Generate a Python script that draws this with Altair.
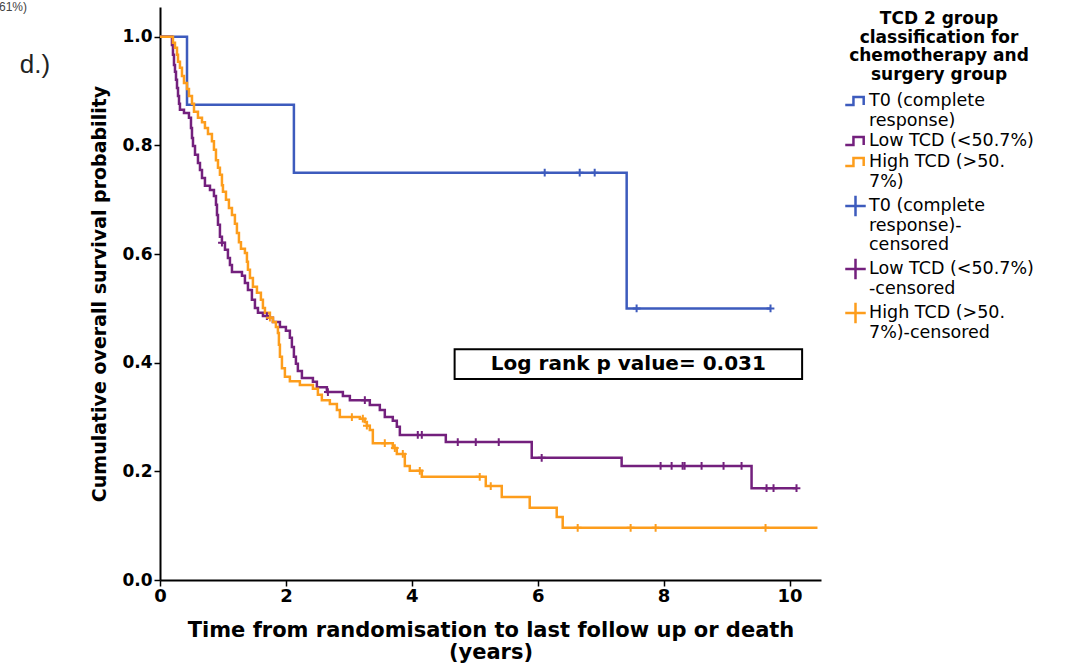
import altair as alt
import pandas as pd
import bisect

FONT = "DejaVu Sans"

# ---- group labels ("|" marks a line break in the legend) ----
G_T0 = "T0 (complete|response)"
G_LOW = "Low TCD (<50.7%)"
G_HIGH = "High TCD (>50.|7%)"
C_T0 = "T0 (complete|response)-|censored"
C_LOW = "Low TCD (<50.7%)|-censored"
C_HIGH = "High TCD (>50.|7%)-censored"
GROUPS = [G_T0, G_LOW, G_HIGH, C_T0, C_LOW, C_HIGH]
COLORS = ["#3d5bbd", "#73207d", "#fd9d1c", "#3d5bbd", "#73207d", "#fd9d1c"]

STEP_PATH = "M-1,0.4H-0.2V-0.4H0.8V0.4"
PLUS_PATH = "M-1,0H1M0,-1V1"
SHAPES = [STEP_PATH, STEP_PATH, STEP_PATH, PLUS_PATH, PLUS_PATH, PLUS_PATH]

# ---- Kaplan-Meier step curves (time in years, survival after step) ----
t0_t = [0, 0.429, 2.127, 7.413, 9.698]
t0_s = [1.0, 0.875, 0.75, 0.5, 0.5]
t0_cens = [6.111, 6.667, 6.905, 7.571, 9.698]

low_t = [0, 0.190, 0.206, 0.222, 0.238, 0.254, 0.270, 0.286, 0.302, 0.317,
         0.381, 0.460, 0.492, 0.508, 0.524, 0.556, 0.603, 0.635, 0.667, 0.714,
         0.794, 0.857, 0.889, 0.905, 0.921, 0.952, 0.984, 1.032, 1.079, 1.111,
         1.143, 1.302, 1.349, 1.397, 1.460, 1.508, 1.556, 1.635, 1.714, 1.794,
         1.905, 2.000, 2.063, 2.095, 2.127, 2.159, 2.190, 2.254, 2.429, 2.492,
         2.651, 2.905, 3.016, 3.333, 3.492, 3.571, 3.698, 3.762, 3.810, 4.540,
         5.905, 7.333, 9.397, 10.111]
low_s = [1.0, 0.985, 0.967, 0.948, 0.936, 0.921, 0.906, 0.891, 0.877, 0.866,
         0.860, 0.851, 0.832, 0.814, 0.799, 0.783, 0.768, 0.755, 0.740, 0.726,
         0.718, 0.707, 0.691, 0.672, 0.654, 0.632, 0.621, 0.608, 0.593, 0.580,
         0.567, 0.560, 0.547, 0.534, 0.516, 0.501, 0.492, 0.486, 0.483, 0.475,
         0.466, 0.459, 0.446, 0.429, 0.411, 0.398, 0.385, 0.372, 0.365, 0.355,
         0.346, 0.339, 0.331, 0.322, 0.313, 0.300, 0.293, 0.282, 0.267, 0.254,
         0.225, 0.210, 0.169, 0.169]
low_cens = [0.984, 1.698, 2.667, 3.254, 4.095, 4.159, 4.730, 5.016, 5.381,
            6.063, 7.952, 8.127, 8.302, 8.333, 8.603, 8.952, 9.238, 9.635,
            9.746, 10.111]

high_t = [0, 0.206, 0.238, 0.270, 0.286, 0.317, 0.349, 0.381, 0.429, 0.460,
          0.508, 0.540, 0.603, 0.667, 0.714, 0.762, 0.825, 0.857, 0.889, 0.921,
          0.952, 0.984, 1.000, 1.048, 1.095, 1.143, 1.190, 1.222, 1.254, 1.286,
          1.349, 1.381, 1.397, 1.429, 1.476, 1.540, 1.603, 1.635, 1.667, 1.746,
          1.794, 1.841, 1.873, 1.889, 1.905, 1.937, 1.984, 2.063, 2.222, 2.429,
          2.508, 2.571, 2.698, 2.810, 2.857, 3.175, 3.254, 3.286, 3.333, 3.381,
          3.698, 3.762, 3.889, 3.968, 4.159, 5.175, 5.429, 5.873, 6.302, 6.397,
          10.444]
high_s = [1.0, 0.989, 0.980, 0.967, 0.954, 0.943, 0.928, 0.915, 0.904, 0.891,
          0.877, 0.862, 0.851, 0.843, 0.832, 0.821, 0.808, 0.792, 0.773, 0.759,
          0.746, 0.727, 0.715, 0.700, 0.685, 0.672, 0.656, 0.639, 0.622, 0.610,
          0.602, 0.586, 0.571, 0.556, 0.540, 0.529, 0.516, 0.501, 0.492, 0.483,
          0.475, 0.466, 0.455, 0.433, 0.411, 0.390, 0.374, 0.366, 0.359, 0.352,
          0.341, 0.331, 0.324, 0.313, 0.300, 0.297, 0.291, 0.284, 0.276, 0.252,
          0.243, 0.232, 0.210, 0.201, 0.190, 0.173, 0.153, 0.133, 0.116, 0.096,
          0.096]
high_cens = [1.746, 3.048, 3.222, 3.286, 3.571, 3.730, 3.857, 4.127, 5.079,
             5.254, 6.635, 7.476, 7.873, 9.619]

LOGRANK_TEXT = "Log rank p value= 0.031"
BOX_X = [4.68, 10.2]
BOX_Y = [0.370, 0.425]

# ---- build tables ----
def surv_at(ts, ss, t):
    i = bisect.bisect_right(ts, t) - 1
    return ss[max(i, 0)]

line_rows = []
cens_rows = []
for g, c, ts, ss, cs in [(G_T0, C_T0, t0_t, t0_s, t0_cens),
                         (G_LOW, C_LOW, low_t, low_s, low_cens),
                         (G_HIGH, C_HIGH, high_t, high_s, high_cens)]:
    for t, s in zip(ts, ss):
        line_rows.append({"t": t, "s": s, "group": g})
    for t in cs:
        cens_rows.append({"t": t, "s": surv_at(ts, ss, t), "group": c})
lines_df = pd.DataFrame(line_rows)
cens_df = pd.DataFrame(cens_rows)
box_df = pd.DataFrame({"x1": [BOX_X[0]], "x2": [BOX_X[1]], "y1": [BOX_Y[0]],
                       "y2": [BOX_Y[1]], "tx": [sum(BOX_X) / 2],
                       "ty": [sum(BOX_Y) / 2], "label": [LOGRANK_TEXT]})

xscale = alt.Scale(domain=[0, 10.5], nice=False, zero=False)
yscale = alt.Scale(domain=[0, 1.055], nice=False, zero=False)
color_scale = alt.Scale(domain=GROUPS, range=COLORS)
shape_scale = alt.Scale(domain=GROUPS, range=SHAPES)

xaxis = alt.Axis(values=[0, 2, 4, 6, 8, 10], format="d", grid=False,
                 title=["Time from randomisation to last follow up or death", "(years)"],
                 labelFont=FONT, labelFontSize=18, labelFontWeight="bold",
                 labelColor="black", labelPadding=1, labelFlush=False,
                 titleFont=FONT, titleFontSize=21, titleFontWeight="bold",
                 titleColor="black", titlePadding=14, titleLineHeight=22,
                 domainColor="black", domainWidth=2, tickColor="black",
                 tickWidth=1.5, tickSize=6)
yaxis = alt.Axis(values=[0, 0.2, 0.4, 0.6, 0.8, 1.0], format=".1f", grid=False,
                 title="Cumulative overall survival probability",
                 labelFont=FONT, labelFontSize=17, labelFontWeight="bold",
                 labelColor="black", labelPadding=2, labelFlush=False,
                 titleFont=FONT, titleFontSize=19, titleFontWeight="bold",
                 titleColor="black", titlePadding=12,
                 domainColor="black", domainWidth=2, tickColor="black",
                 tickWidth=1.5, tickSize=6)

legend = alt.Legend(
    title=["TCD 2 group", "classification for", "chemotherapy and", "surgery group"],
    orient="none", legendX=684, legendY=4,
    labelExpr="split(datum.label, '|')",
    labelFont=FONT, labelFontSize=17.5, labelColor="black", labelOffset=2,
    labelLimit=400,
    titleFont=FONT, titleFontSize=17, titleFontWeight="bold", titleColor="black",
    titleAlign="center", titleAnchor="middle", titleLineHeight=18.5,
    titlePadding=6, rowPadding=0,
    symbolSize=420, symbolStrokeWidth=2.5, symbolFillColor="transparent",
)

lines = alt.Chart(lines_df).mark_line(interpolate="step-after", strokeWidth=2.5).encode(
    x=alt.X("t:Q", scale=xscale, axis=xaxis),
    y=alt.Y("s:Q", scale=yscale, axis=yaxis),
    color=alt.Color("group:N", scale=color_scale, legend=None),
)

cens = alt.Chart(cens_df).mark_point(filled=False, strokeWidth=2, size=60, opacity=1).encode(
    x=alt.X("t:Q", scale=xscale),
    y=alt.Y("s:Q", scale=yscale),
    color=alt.Color("group:N", scale=color_scale, legend=legend),
    shape=alt.Shape("group:N", scale=shape_scale, legend=legend),
)

box = alt.Chart(box_df).mark_rect(fill="white", stroke="black", strokeWidth=2).encode(
    x=alt.X("x1:Q", scale=xscale), x2="x2:Q",
    y=alt.Y("y1:Q", scale=yscale), y2="y2:Q",
)
box_text = alt.Chart(box_df).mark_text(font=FONT, fontSize=20, fontWeight="bold",
                                       color="black").encode(
    x=alt.X("tx:Q", scale=xscale), y=alt.Y("ty:Q", scale=yscale), text="label:N",
)

side_df = pd.DataFrame({"label": ["d.)"]})
panel = alt.Chart(side_df).mark_text(font="Liberation Sans", fontSize=26, color="#222222",
                                     align="center", baseline="middle").encode(
    x=alt.value(-125), y=alt.value(58), text="label:N")
clip_df = pd.DataFrame({"label": ["61%)"]})
clipped = alt.Chart(clip_df).mark_text(font="Liberation Sans", fontSize=12, color="#444444",
                                       align="left", baseline="alphabetic").encode(
    x=alt.value(-161), y=alt.value(4), text="label:N")

chart = alt.layer(lines, cens, box, box_text, panel, clipped).resolve_legend(
    color="independent", shape="independent"
).properties(
    width=661, height=573,
    padding={"left": 160, "top": 7, "right": 259, "bottom": 86},
    autosize=alt.AutoSizeParams(type="none"),
    background="white",
).configure_view(stroke=None)

chart.save("out.html", embed_options={"renderer": "svg", "actions": False})
